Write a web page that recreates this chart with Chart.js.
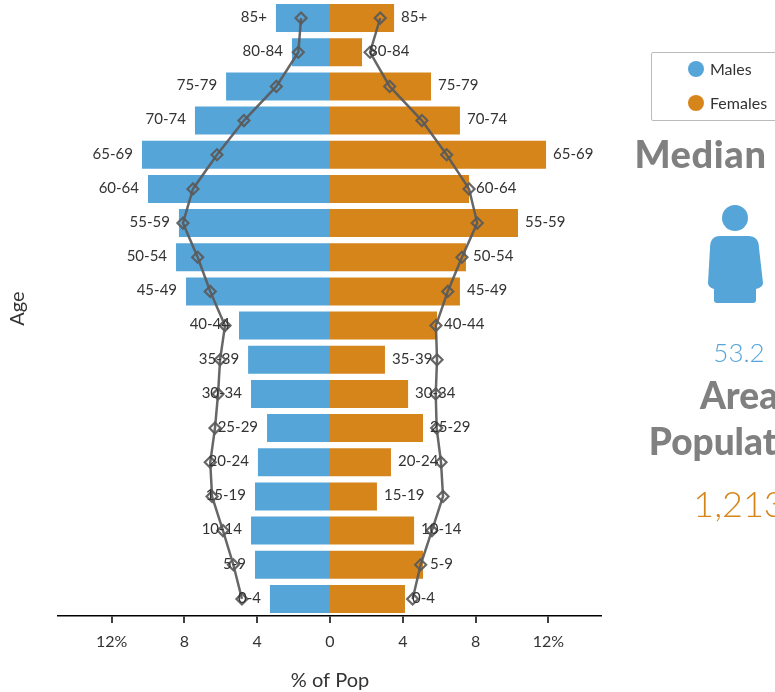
<!DOCTYPE html>
<html>
<head>
<meta charset="utf-8">
<title>Population pyramid</title>
<script src="https://cdn.jsdelivr.net/npm/chart.js@4"></script>
<style>
  html, body { margin: 0; padding: 0; background: #fff; }
  body { width: 775px; height: 692px; overflow: hidden; position: relative; font-family: Lato, sans-serif; }
  canvas { position: absolute; left: 0; top: 0; }
  .side { position: absolute; white-space: nowrap; text-align: center; width: 300px; left: 589px; }
  .head { font-weight: 900; font-size: 37px; color: #808080; line-height: 46px; }
  #legendBox { position: absolute; left: 651px; top: 52px; width: 160px; height: 67px; border: 1.5px solid #bbb; border-radius: 2px; }
  .item { position: absolute; left: 36px; font-size: 16px; color: #333; line-height: 20px; padding-left: 22px; }
  .item i { position: absolute; left: 0; top: 2px; width: 16px; height: 16px; border-radius: 50%; }
</style>
</head>
<body>
<canvas id="pyramid" width="775" height="692"></canvas>
<div id="legendBox"></div>
<div class="side head" style="top:130px;left:593px;font-size:38px;letter-spacing:0.6px;word-spacing:8px">Median Age</div>
<svg style="position:absolute;left:700px;top:200px" width="72" height="110">
  <circle cx="35" cy="18" r="13" fill="#56a5d9"/>
  <path d="M20 36 H48 Q59 36 59 48 L63 83 Q63 87 56 89 V100 Q56 103 53 103 H17 Q14 103 14 100 V89 Q8 87 8 83 L10 48 Q10 36 20 36 Z" fill="#56a5d9"/>
</svg>
<div class="side" style="top:337px;font-size:26px;font-weight:300;line-height:30px;color:#56a5d9">53.2</div>
<div class="side head" style="top:372px">Area<br>Population</div>
<div class="side" style="top:480px;font-size:36px;font-weight:300;line-height:46px;color:#d6851b">1,213</div>
<script>
const ageGroups = ["85+", "80-84", "75-79", "70-74", "65-69", "60-64", "55-59", "50-54", "45-49",
  "40-44", "35-39", "30-34", "25-29", "20-24", "15-19", "10-14", "5-9", "0-4"];
const males = [2.97, 2.09, 5.71, 7.42, 10.33, 10.0, 8.3, 8.46, 7.91,
  5.0, 4.5, 4.34, 3.46, 3.96, 4.12, 4.34, 4.12, 3.3];
const females = [3.52, 1.76, 5.55, 7.14, 11.87, 7.64, 10.33, 7.47, 7.14,
  5.88, 3.02, 4.29, 5.11, 3.35, 2.58, 4.62, 5.11, 4.12];
const malesArea = [1.59, 1.74, 2.95, 4.73, 6.21, 7.53, 8.08, 7.27, 6.58,
  5.77, 6.04, 6.15, 6.32, 6.58, 6.48, 5.88, 5.31, 4.84];
const femalesArea = [2.76, 2.2, 3.28, 5.05, 6.41, 7.64, 8.09, 7.25, 6.47,
  5.82, 5.88, 5.81, 5.86, 6.1, 6.21, 5.6, 4.98, 4.54];
const tickValues = [-12, -8, -4, 0, 4, 8, 12];
const seriesNames = ["Males", "Females"];
const seriesColors = ["#56a5d9", "#d6851b"];

const lineColor = 'rgba(90, 90, 90, 0.92)';

// legend is a html box since the real one is cut off by the window edge
const legendBox = document.getElementById('legendBox');
seriesNames.forEach((name, i) => {
  const el = document.createElement('div');
  el.className = 'item';
  el.style.top = (6 + i * 34) + 'px';
  el.innerHTML = '<i style="background:' + seriesColors[i] + '"></i>' + name;
  legendBox.appendChild(el);
});

// age labels sit just outside the end of each bar, above the lines
const barLabels = {
  id: 'barLabels',
  afterDatasetsDraw(chart) {
    const c = chart.ctx;
    const x = chart.scales.x;
    const y = chart.scales.y;
    c.save();
    c.font = '15px Lato, sans-serif';
    c.fillStyle = '#333';
    c.textBaseline = 'middle';
    ageGroups.forEach((g, i) => {
      const py = y.getPixelForValue(i) - 1;
      c.textAlign = 'right';
      c.fillText(g, x.getPixelForValue(-males[i]) - 9, py);
      c.textAlign = 'left';
      c.fillText(g, x.getPixelForValue(females[i]) + 7, py);
    });
    c.restore();
  }
};

function lineSet(values) {
  return {
    type: 'line',
    data: values,
    order: 0,
    borderColor: lineColor,
    borderWidth: 2.5,
    tension: 0,
    fill: false,
    pointStyle: 'rectRot',
    pointRadius: 5.5,
    pointBorderWidth: 2.2,
    pointBorderColor: lineColor,
    pointBackgroundColor: 'rgba(0,0,0,0)'
  };
}

new Chart(document.getElementById('pyramid'), {
  type: 'bar',
  data: {
    labels: ageGroups,
    datasets: [
      { label: seriesNames[0], data: males.map(v => -v), backgroundColor: seriesColors[0], order: 1 },
      { label: seriesNames[1], data: females, backgroundColor: seriesColors[1], order: 1 },
      lineSet(malesArea.map(v => -v)),
      lineSet(femalesArea)
    ]
  },
  options: {
    indexAxis: 'y',
    responsive: false,
    animation: false,
    layout: { autoPadding: false, padding: { top: 1, right: 173, bottom: 0, left: 0 } },
    datasets: { bar: { grouped: false, categoryPercentage: 0.82, barPercentage: 1 } },
    plugins: { legend: { display: false }, tooltip: { enabled: false } },
    scales: {
      x: {
        min: -14.945,
        max: 14.945,
        afterBuildTicks: axis => { axis.ticks = tickValues.map(v => ({ value: v })); },
        afterFit: axis => { axis.height = 76; },
        // lineWidth 0: bars leave a gap at the base for the zero gridline otherwise
        grid: { drawOnChartArea: false, lineWidth: 0, tickLength: 7, tickColor: '#000', tickWidth: 1.5 },
        border: { color: '#000', width: 1.5 },
        ticks: {
          padding: 9,
          color: '#333',
          font: { family: 'Lato', size: 16 },
          maxRotation: 0,
          callback: v => Math.abs(v) + (Math.abs(v) === 12 ? '%' : '')
        },
        title: { display: true, text: '% of Pop', color: '#333', font: { family: 'Lato', size: 20 }, padding: { top: 0, bottom: -1 } }
      },
      y: {
        afterFit: axis => { axis.width = 58; },
        grid: { display: false },
        border: { display: false },
        ticks: { display: false },
        title: { display: true, text: 'Age', color: '#333', font: { family: 'Lato', size: 20 }, padding: { top: 6, bottom: 0 } }
      }
    }
  },
  plugins: [barLabels]
});
</script>
</body>
</html>
